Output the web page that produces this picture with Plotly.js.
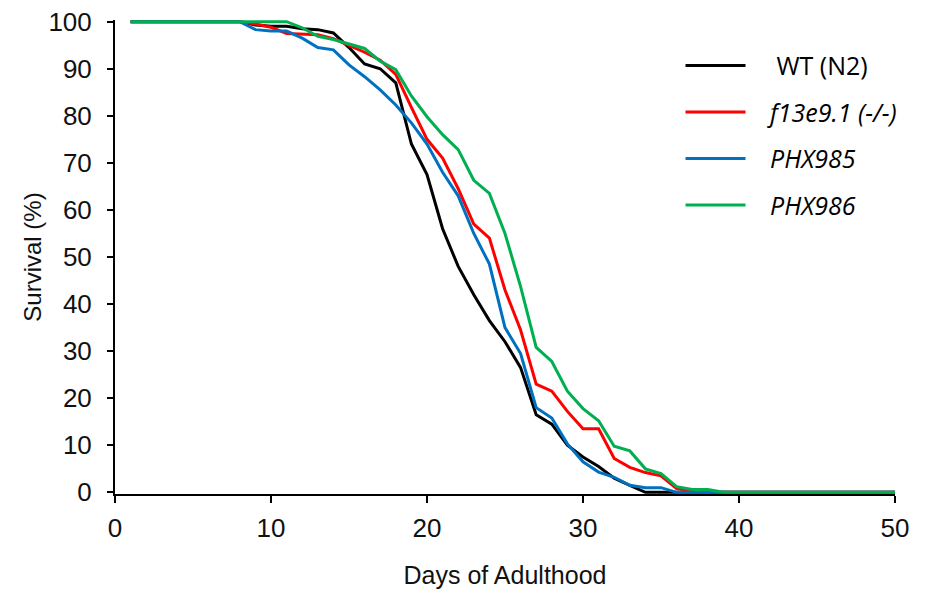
<!DOCTYPE html>
<html>
<head>
<meta charset="utf-8">
<script src="https://cdn.plot.ly/plotly-3.0.1.min.js"></script>
<style>html,body{margin:0;padding:0;background:#fff;}#chart{width:926px;height:592px;}</style>
</head>
<body>
<div id="chart"></div>
<script>
const days = [1,2,3,4,5,6,7,8,9,10,11,12,13,14,15,16,17,18,19,20,21,22,23,24,25,26,27,28,29,30,31,32,33,34,35,36,37,38,39,40,41,42,43,44,45,46,47,48,49,50];

const wtN2 = [100,100,100,100,100,100,100,100,99.3,99,99,98.5,98.3,97.6,94.5,91,90,87,74,67.5,56,48,42,36.5,32,26.5,16.5,14.5,10,7.5,5.5,3,1.5,0,0,0,0,0,0,0,0,0,0,0,0,0,0,0,0,0];

const f13e91 = [100,100,100,100,100,100,100,100,99.5,98.8,97.5,97.3,97.2,96.4,95,93.5,91.8,88.8,81.8,75,71,64.5,57,54,43,34.5,23,21.5,17.2,13.5,13.5,7.2,5.3,4.2,3.5,0.8,0.3,0,0,0,0,0,0,0,0,0,0,0,0,0];

const phx985 = [100,100,100,100,100,100,100,100,98.3,98,98,96.5,94.5,94,90.8,88.3,85.5,82.3,78.5,74,68,63,55,48.5,35,29.5,18,15.8,10.3,6.5,4.3,3.2,1.5,1,1,0,0,0,0,0,0,0,0,0,0,0,0,0,0,0];

const phx986 = [100,100,100,100,100,100,100,100,100,100,100,98.7,96.9,96.2,95.3,94.3,91.6,89.8,84.2,79.8,76,72.8,66.3,63.5,55,43.7,30.8,27.8,21.5,17.8,15.2,9.8,8.8,5,4,1.2,0.6,0.6,0,0,0,0,0,0,0,0,0,0,0,0];

const seriesNames = ['    WT (N2)', '   <i>f13e9.1 (-/-)</i>', '   <i>PHX985</i>', '   <i>PHX986</i>'];
const seriesColors = ['#000000', '#FF0000', '#0070C0', '#00B050'];
const seriesValues = [wtN2, f13e91, phx985, phx986];

const xTicks = [0,10,20,30,40,50];
const yTicks = [0,10,20,30,40,50,60,70,80,90,100];

const traces = seriesValues.map((vals, i) => ({
  type: 'scatter',
  mode: 'lines',
  x: days,
  y: vals,
  name: seriesNames[i],
  legendgroup: 'g' + i,
  line: {color: seriesColors[i], width: 3},
  hoverinfo: 'skip'
}));

const tickFont = {family: 'Liberation Sans, Arial, sans-serif', size: 26, color: '#111'};

const layout = {
  width: 926,
  height: 592,
  margin: {l: 115, r: 31, t: 20, b: 98},
  paper_bgcolor: '#ffffff',
  plot_bgcolor: '#ffffff',
  showlegend: true,
  legend: {
    x: 0.725, xanchor: 'left',
    y: 0.757, yanchor: 'middle',
    font: {family: 'Open Sans, sans-serif', size: 25, color: '#000'},
    tracegroupgap: 11,
    itemwidth: 60,
    bgcolor: 'rgba(0,0,0,0)'
  },
  xaxis: {
    range: [0, 50],
    tickvals: xTicks,
    ticktext: xTicks.map(String),
    showline: true, linecolor: '#000', linewidth: 2,
    ticks: 'outside', ticklen: 7, tickwidth: 2, tickcolor: '#000',
    showgrid: false, zeroline: false,
    tickfont: tickFont,
    ticklabelstandoff: 3,
    title: {text: 'Days of Adulthood', font: {family: 'Liberation Sans, Arial, sans-serif', size: 25, color: '#111'}, standoff: 24}
  },
  yaxis: {
    range: [-0.35, 100.35],
    tickvals: yTicks,
    ticktext: yTicks.map(String),
    showline: true, linecolor: '#000', linewidth: 2,
    ticks: 'outside', ticklen: 6, tickwidth: 2, tickcolor: '#000',
    showgrid: false, zeroline: false,
    tickfont: tickFont,
    ticklabelstandoff: 10,
    title: {text: 'Survival (%)', font: {family: 'Liberation Sans, Arial, sans-serif', size: 24, color: '#111'}, standoff: 0}
  }
};

Plotly.newPlot('chart', traces, layout, {displayModeBar: false, staticPlot: true});
</script>
</body>
</html>
